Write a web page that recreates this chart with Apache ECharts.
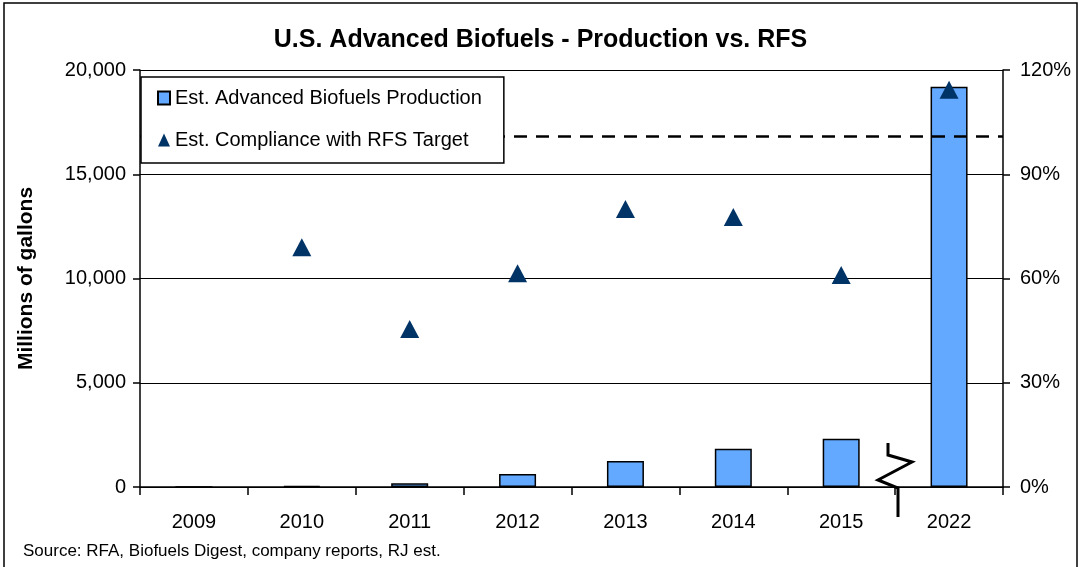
<!DOCTYPE html>
<html>
<head>
<meta charset="utf-8">
<script src="https://cdn.jsdelivr.net/npm/echarts@6/dist/echarts.min.js"></script>
<style>
  html, body { margin: 0; padding: 0; background: #fff; }
  #chart { width: 1081px; height: 567px; }
</style>
</head>
<body>
<div id="chart"></div>
<script>
// data
var years = ["2009", "2010", "2011", "2012", "2013", "2014", "2015", "2022"];
var production = [0, 50, 180, 620, 1250, 1840, 2320, 19200];   // millions of gallons
var compliance = [null, 69, 45.5, 61.5, 80, 77.7, 61, 114.3];  // % of RFS target
var rfsTarget = 101;  // dashed reference line, right axis
var leftTicks = { min: 0, max: 20000, interval: 5000 };
var rightTicks = { min: 0, max: 120, interval: 30 };

var font = "Liberation Sans, Arial, sans-serif";

var chart = echarts.init(document.getElementById("chart"));
chart.setOption({
  animation: false,
  backgroundColor: "#fff",
  title: {
    text: "U.S. Advanced Biofuels - Production vs. RFS",
    left: "center",
    top: 23,
    textStyle: { fontFamily: font, fontSize: 25, fontWeight: "bold", color: "#000" }
  },
  legend: {
    orient: "vertical",
    left: 141,
    top: 77,
    z: 20,
    padding: [11, 22, 13, 16],
    itemGap: 22,
    itemWidth: 12,
    itemHeight: 13,
    backgroundColor: "#fff",
    borderColor: "#000",
    borderWidth: 1.5,
    textStyle: { fontFamily: font, fontSize: 20, color: "#000" },
    data: [
      { name: "Est. Advanced Biofuels Production", icon: "rect" },
      { name: "Est. Compliance with RFS Target", icon: "triangle" }
    ]
  },
  grid: { left: 140, right: 78, top: 70, bottom: 80 },
  xAxis: {
    type: "category",
    data: years,
    boundaryGap: true,
    axisLine: { lineStyle: { color: "#000", width: 1.5 } },
    axisTick: { show: true, length: 8, lineStyle: { color: "#000", width: 1.5 } },
    axisLabel: { fontFamily: font, fontSize: 20, color: "#000", margin: 25 }
  },
  yAxis: [
    {
      type: "value",
      min: leftTicks.min,
      max: leftTicks.max,
      interval: leftTicks.interval,
      name: "Millions of gallons",
      nameLocation: "middle",
      nameGap: 103,
      nameTextStyle: { fontFamily: font, fontSize: 21, fontWeight: "bold", color: "#000" },
      axisLine: { show: true, lineStyle: { color: "#000", width: 1.5 } },
      axisTick: { show: true, length: 7, lineStyle: { color: "#000", width: 1.5 } },
      axisLabel: {
        fontFamily: font, fontSize: 20, color: "#000", margin: 14,
        formatter: function (v) { return v.toLocaleString("en-US"); }
      },
      splitLine: { show: true, lineStyle: { color: "#000", width: 1.2 } }
    },
    {
      type: "value",
      min: rightTicks.min,
      max: rightTicks.max,
      interval: rightTicks.interval,
      position: "right",
      axisLine: { show: true, lineStyle: { color: "#000", width: 1.5 } },
      axisTick: { show: true, length: 7, lineStyle: { color: "#000", width: 1.5 } },
      axisLabel: { fontFamily: font, fontSize: 20, color: "#000", margin: 17, formatter: "{value}%" },
      splitLine: { show: false }
    }
  ],
  series: [
    {
      name: "Est. Advanced Biofuels Production",
      type: "bar",
      data: production,
      barWidth: 37,
      itemStyle: { color: "#63A9FF", borderColor: "#000", borderWidth: 1.5 },
      z: 2
    },
    {
      name: "Est. Compliance with RFS Target",
      type: "scatter",
      yAxisIndex: 1,
      data: compliance,
      symbol: "triangle",
      symbolSize: [19, 18],
      itemStyle: { color: "#003366", opacity: 1 },
      z: 3,
      markLine: {
        silent: true,
        symbol: "none",
        label: { show: false },
        lineStyle: { color: "#000", type: [13, 9], width: 2.5 },
        data: [{ yAxis: rfsTarget }]
      }
    }
  ],
  graphic: [
    {
      type: "rect",
      shape: { x: 4, y: 3, width: 1073, height: 580 },
      style: { fill: null, stroke: "#000", lineWidth: 1.5 },
      silent: true
    },
    {
      type: "polyline",
      shape: { points: [[888, 443], [888, 455], [912, 462], [878, 480], [898, 488], [898, 517]] },
      style: { fill: null, stroke: "#000", lineWidth: 3 },
      z: 10,
      silent: true
    },
    {
      type: "text",
      left: 23,
      top: 543,
      style: {
        text: "Source: RFA, Biofuels Digest, company reports, RJ est.",
        font: "17px " + font,
        fill: "#000"
      }
    }
  ]
});
</script>
</body>
</html>
